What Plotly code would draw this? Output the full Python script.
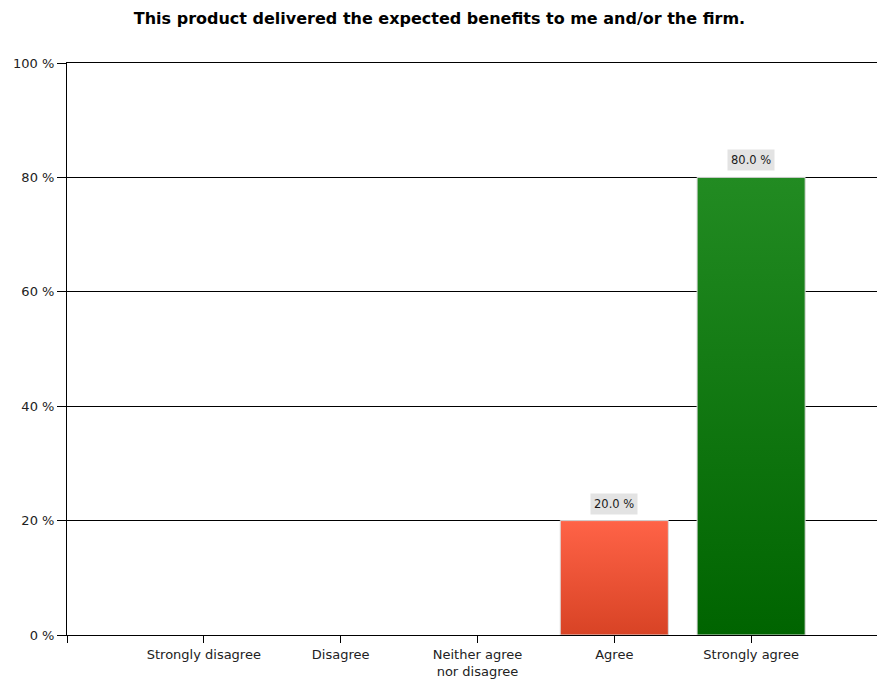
import plotly.graph_objects as go

# Survey responses
categories = ["Strongly disagree", "Disagree", "Neither agree<br>nor disagree", "Agree", "Strongly agree"]
shares = [0.0, 0.0, 0.0, 20.0, 80.0]
y_ticks = [0, 20, 40, 60, 80, 100]
y_tick_labels = [f"{t} %" for t in y_ticks]

# Gradient colours per bar (bottom, top)
bar_grad = [
    ("#d84325", "#ff6347"),
    ("#d84325", "#ff6347"),
    ("#d84325", "#ff6347"),
    ("#d84325", "#ff6347"),
    ("#006400", "#228b22"),
]
bar_width = 0.79
FONT = "DejaVu Sans, Verdana, sans-serif"

fig = go.Figure()

# Gradient-filled bars with a light outline
for i, (v, (c0, c1)) in enumerate(zip(shares, bar_grad)):
    if v <= 0:
        continue
    h = bar_width / 2
    fig.add_trace(go.Scatter(
        x=[i - h, i + h, i + h, i - h, i - h],
        y=[0, 0, v, v, 0],
        mode="lines",
        line=dict(width=1, color="#dadada"),
        fill="toself",
        fillgradient=dict(type="vertical", colorscale=[[0, c0], [1, c1]]),
        hoverinfo="skip",
        showlegend=False,
    ))

# Value labels
for i, v in enumerate(shares):
    if v <= 0:
        continue
    fig.add_annotation(
        x=i, y=v, xref="x", yref="y",
        text=f"{v:.1f} %",
        showarrow=False,
        yanchor="bottom", yshift=6,
        bgcolor="#e3e3e3",
        borderpad=3,
        font=dict(family=FONT, size=11.5, color="#1a1a1a"),
    )

fig.update_layout(
    width=879, height=679,
    margin=dict(l=67, r=2, t=63, b=44, autoexpand=False),
    paper_bgcolor="white",
    plot_bgcolor="white",
    font=dict(family=FONT, size=13, color="#222222"),
    title=dict(
        text="<b>This product delivered the expected benefits to me and/or the firm.</b>",
        x=0.5, xanchor="center",
        y=1 - 18 / 679, yanchor="middle", yref="container",
        font=dict(family=FONT, size=16, color="black"),
    ),
    xaxis=dict(
        range=[-1, 4.92],
        tickmode="array",
        tickvals=[-1] + list(range(len(categories))),
        ticktext=[""] + categories,
        ticks="outside", ticklen=7, tickcolor="black",
        automargin=False,
        showgrid=False, zeroline=False,
        showline=True, linecolor="black", linewidth=1, mirror=True,
        fixedrange=True,
    ),
    yaxis=dict(
        range=[0, 100],
        tickmode="array",
        tickvals=y_ticks,
        ticktext=y_tick_labels,
        ticks="outside", ticklen=9, tickcolor="black",
        automargin=False,
        showgrid=True, gridcolor="black", gridwidth=1,
        zeroline=False,
        showline=True, linecolor="black", linewidth=1,
        fixedrange=True,
    ),
)

fig.write_html("out.html")
